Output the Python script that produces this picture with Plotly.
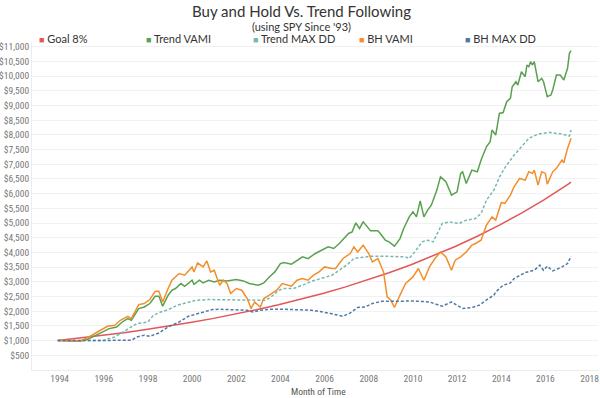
import plotly.graph_objects as go

# ---------------- data ----------------
goal_dates = ["1993-12", "1994-12", "1995-12", "1996-12", "1997-12", "1998-12", "1999-12",
              "2000-12", "2001-12", "2002-12", "2003-12", "2004-12", "2005-12", "2006-12",
              "2007-12", "2008-12", "2009-12", "2010-12", "2011-12", "2012-12", "2013-12",
              "2014-12", "2015-12", "2016-12", "2017-03"]
goal_vals = [1000, 1083, 1173, 1270, 1376, 1490, 1614, 1748, 1893, 2050, 2220, 2404, 2604,
             2820, 3054, 3308, 3582, 3880, 4202, 4551, 4928, 5338, 5781, 6261, 6390]

trend_vami_dates = ["1993-12", "1994-06", "1994-12", "1995-04", "1995-11", "1996-04", "1996-08",
                    "1996-11", "1997-02", "1997-04", "1997-08", "1997-11", "1998-02", "1998-05",
                    "1998-07", "1998-09", "1998-12", "1999-02", "1999-04", "1999-07", "1999-09",
                    "2000-01", "2000-02", "2000-05", "2000-07", "2000-10", "2001-01", "2001-04",
                    "2001-08", "2002-01", "2002-05", "2002-08", "2003-01", "2003-04", "2003-07",
                    "2003-10", "2004-01", "2004-03", "2004-07", "2005-01", "2005-04", "2005-08",
                    "2006-03", "2006-06", "2006-09", "2007-02", "2007-04", "2007-06", "2007-08",
                    "2007-10", "2008-02", "2008-06", "2008-08", "2008-10", "2008-12", "2009-03",
                    "2009-06", "2009-08", "2009-11", "2010-01", "2010-03", "2010-05", "2010-07",
                    "2010-09", "2010-11", "2011-02", "2011-04", "2011-07", "2011-10", "2012-01",
                    "2012-03", "2012-04", "2012-06", "2012-09", "2012-12", "2013-02", "2013-05",
                    "2013-07", "2013-08", "2013-10", "2013-12", "2014-02", "2014-04", "2014-06",
                    "2014-07", "2014-09", "2014-10", "2014-12", "2015-02", "2015-03", "2015-04",
                    "2015-05", "2015-06", "2015-07", "2015-09", "2015-11", "2015-12", "2016-02",
                    "2016-04", "2016-05", "2016-07", "2016-09", "2016-11", "2017-01", "2017-02",
                    "2017-03"]
trend_vami_vals = [1000, 987, 977, 1035, 1260, 1409, 1464,
                   1634, 1750, 1692, 2091, 2145, 2261, 2510,
                   2510, 2169, 2544, 2714, 2772, 2942, 2850,
                   3055, 2918, 3055, 2963, 3055, 2997, 3055,
                   3031, 3078, 3031, 2942, 2884, 2963, 3167,
                   3337, 3623, 3660, 3599, 3848, 3790, 3964,
                   4189, 4134, 4305, 4645, 4700, 5006, 4815,
                   5040, 4734, 4734, 4587, 4417, 4359, 4213,
                   4470, 4815, 5211, 5381, 5211, 5756, 5211,
                   5439, 5609, 6120, 6573, 6403, 5950, 6062,
                   6689, 6743, 6348, 6801, 6743, 7142, 7595,
                   7765, 8164, 7994, 8730, 8760, 9128, 9243,
                   9638, 9809, 9696, 10149, 9979, 10377, 10320,
                   10490, 10377, 10490, 9809, 9924, 9809, 9298,
                   9355, 9526, 10036, 10036, 9867, 10265, 10776,
                   10865]

trend_dd_dates = ["1993-12", "1996-01", "1996-02", "1996-07", "1996-10", "1997-04", "1997-07",
                  "1998-01", "1998-04", "1998-08", "1998-12", "1999-05", "1999-11", "2000-03",
                  "2000-10", "2002-05", "2002-11", "2003-05", "2003-08", "2003-12", "2004-03",
                  "2004-08", "2005-01", "2005-06", "2005-11", "2006-05", "2006-09", "2007-02",
                  "2007-05", "2007-08", "2008-02", "2008-09", "2009-07", "2009-09", "2009-11",
                  "2010-02", "2010-06", "2010-09", "2010-12", "2011-03", "2011-05", "2011-09",
                  "2012-02", "2012-06", "2012-11", "2013-02", "2013-05", "2013-09", "2013-12",
                  "2014-03", "2014-08", "2014-12", "2015-04", "2015-09", "2016-03", "2016-10",
                  "2017-02", "2017-03"]
trend_dd_vals = [1000, 1000, 1035, 1123, 1239, 1464, 1580,
                 1634, 1862, 1975, 2050, 2203, 2315, 2373,
                 2397, 2397, 2373, 2373, 2486, 2714, 2772,
                 2772, 2884, 3021, 3112, 3225, 3395, 3623,
                 3794, 3814, 3872, 3872, 3848, 3848, 3794,
                 4018, 4359, 4417, 4359, 4758, 4985, 5040,
                 4985, 5098, 5155, 5326, 5779, 6120, 6560,
                 6880, 7312, 7595, 7881, 8027, 8085, 8027,
                 7959, 8164]

bh_vami_dates = ["1993-12", "1994-03", "1994-06", "1994-09", "1994-12", "1995-04", "1995-11",
                 "1996-03", "1996-07", "1996-10", "1997-02", "1997-04", "1997-08", "1997-11",
                 "1998-02", "1998-05", "1998-07", "1998-09", "1998-12", "1999-02", "1999-06",
                 "1999-09", "2000-01", "2000-02", "2000-04", "2000-07", "2000-09", "2000-11",
                 "2001-01", "2001-04", "2001-06", "2001-08", "2001-10", "2002-01", "2002-04",
                 "2002-07", "2002-09", "2002-11", "2003-02", "2003-04", "2003-07", "2003-11",
                 "2004-02", "2004-07", "2004-10", "2005-01", "2005-04", "2005-07", "2005-10",
                 "2006-01", "2006-05", "2006-07", "2006-11", "2007-03", "2007-05", "2007-07",
                 "2007-10", "2008-01", "2008-03", "2008-06", "2008-09", "2008-11", "2009-01",
                 "2009-03", "2009-06", "2009-08", "2009-09", "2010-01", "2010-04", "2010-07",
                 "2010-10", "2011-01", "2011-04", "2011-07", "2011-10", "2011-12", "2012-03",
                 "2012-06", "2012-09", "2012-11", "2013-02", "2013-05", "2013-08", "2013-10",
                 "2014-01", "2014-03", "2014-06", "2014-08", "2014-11", "2015-02", "2015-04",
                 "2015-06", "2015-07", "2015-09", "2015-11", "2016-01", "2016-02", "2016-05",
                 "2016-07", "2016-10", "2016-11", "2017-01", "2017-03"]
bh_vami_vals = [1000, 1010, 985, 1000, 990, 1089, 1351,
                1488, 1522, 1692, 1828, 1750, 2227, 2261,
                2397, 2680, 2680, 2315, 2772, 3055, 3283,
                3225, 3507, 3337, 3644, 3507, 3712, 3337,
                3395, 2884, 3055, 2942, 2602, 2772, 2714,
                2431, 2091, 2315, 2145, 2431, 2544, 2714,
                2942, 2850, 3055, 3112, 3055, 3225, 3337,
                3507, 3453, 3453, 3794, 3964, 4189, 4018,
                4247, 3964, 3678, 3794, 3337, 2486, 2373,
                2125, 2550, 2850, 2942, 3167, 3453, 3055,
                3507, 3794, 4018, 3848, 3395, 3736, 3848,
                4018, 4247, 4305, 4417, 4928, 5211, 5098,
                5700, 5667, 5950, 6233, 6518, 6460, 6743,
                6689, 6801, 6290, 6743, 6689, 6324, 6743,
                6860, 7142, 7050, 7540, 7881]

bh_dd_dates = ["1993-12", "1997-04", "1997-07", "1997-11", "1998-02", "1998-07", "1998-12",
               "1999-06", "1999-11", "2000-07", "2000-12", "2001-04", "2002-01", "2002-07",
               "2002-10", "2003-02", "2003-07", "2004-03", "2005-06", "2006-03", "2006-11",
               "2007-03", "2007-07", "2007-11", "2008-03", "2008-08", "2009-06", "2010-01",
               "2010-10", "2011-05", "2011-10", "2012-04", "2012-09", "2013-01", "2013-06",
               "2013-09", "2013-10", "2014-02", "2014-06", "2014-08", "2015-02", "2015-07",
               "2015-10", "2015-12", "2016-02", "2016-05", "2016-10", "2017-01", "2017-03"]
bh_dd_vals = [1000, 1011, 1123, 1181, 1147, 1260, 1464,
              1634, 1828, 1975, 2057, 2067, 2057, 2033,
              1975, 2033, 2067, 2067, 2033, 1941, 1828,
              1941, 2125, 2145, 2261, 2339, 2339, 2349,
              2315, 2169, 2315, 2091, 2125, 2203, 2431,
              2544, 2656, 2884, 2963, 3112, 3317, 3395,
              3565, 3395, 3531, 3371, 3507, 3623, 3872]

series_names = ["Goal 8%", "Trend VAMI", "Trend MAX DD", "BH VAMI", "BH MAX DD"]
series_colors = ["#e15759", "#59a14f", "#76b7b2", "#f28e2b", "#4e79a7"]
x_tick_years = list(range(1994, 2019, 2))
y_tick_vals = list(range(500, 11001, 500))

# ---------------- figure ----------------
series = [
    (goal_dates, goal_vals, "solid"),
    (trend_vami_dates, trend_vami_vals, "solid"),
    (trend_dd_dates, trend_dd_vals, "3px,2px"),
    (bh_vami_dates, bh_vami_vals, "solid"),
    (bh_dd_dates, bh_dd_vals, "3px,2px"),
]

fig = go.Figure()
for (d, v, dash), name, col in zip(series, series_names, series_colors):
    fig.add_trace(go.Scatter(
        x=[s + "-01" for s in d], y=v, name=name, mode="lines",
        line=dict(color=col, width=1.5, dash=dash, shape="linear"),
        showlegend=False,
    ))

TICK_FONT = "Liberation Sans Narrow, Roboto Condensed, Arial Narrow, Roboto, sans-serif"
TEXT_FONT = "Lato, Open Sans, sans-serif"

L, R, T, B = 32, 598, 42, 28
PH = 398 - T - B

# legend drawn as text entries
legend_x_px = [37, 144, 251, 357, 463]
for name, col, px in zip(series_names, series_colors, legend_x_px):
    fig.add_annotation(
        xref="paper", yref="paper",
        x=(px - L) / (R - L), y=1 + (T - 38.5) / PH,
        xanchor="left", yanchor="middle", showarrow=False,
        text=f"<span style='color:{col};font-size:9px'>■</span> {name}",
        font=dict(family=TEXT_FONT, size=11, color="#333333"),
    )

fig.add_annotation(xref="paper", yref="paper", x=(301 - L) / (R - L), y=1 + (T - 11) / PH,
                   xanchor="center", yanchor="middle", showarrow=False,
                   text="Buy and Hold Vs. Trend Following",
                   font=dict(family=TEXT_FONT, size=15, color="#333333"))
fig.add_annotation(xref="paper", yref="paper", x=(301 - L) / (R - L), y=1 + (T - 26.5) / PH,
                   xanchor="center", yanchor="middle", showarrow=False,
                   text="(using SPY Since '93)",
                   font=dict(family=TEXT_FONT, size=11, color="#333333"))
fig.add_annotation(xref="paper", yref="paper", x=(318 - L) / (R - L), y=-(391 - (398 - B)) / PH,
                   xanchor="center", yanchor="middle", showarrow=False,
                   text="Month of Time",
                   font=dict(family=TICK_FONT, size=9.5, color="#555555"))

fig.update_layout(
    width=600, height=398,
    margin=dict(l=L, r=600 - R, t=T, b=B, pad=0),
    paper_bgcolor="white", plot_bgcolor="white",
    font=dict(family=TICK_FONT, color="#777777", size=9.5),
    xaxis=dict(
        type="date", range=["1992-10-01", "2018-05-20"],
        tickvals=[f"{y}-01-01" for y in x_tick_years],
        ticktext=[str(y) for y in x_tick_years],
        showgrid=False, zeroline=False,
        showline=True, linecolor="#ececec", linewidth=1,
        ticks="", tickfont=dict(family=TICK_FONT, size=9.5, color="#777777"),
        automargin=False,
    ),
    yaxis=dict(
        range=[0, 11160],
        tickvals=y_tick_vals,
        ticktext=[f"${v:,}" for v in y_tick_vals],
        showgrid=True, gridcolor="#f1f1f1", gridwidth=1,
        zeroline=False, showline=True, linecolor="#ececec", linewidth=1,
        ticks="", tickfont=dict(family=TICK_FONT, size=9.5, color="#777777"),
        automargin=False,
    ),
)

fig.write_html("out.html", config={"displayModeBar": False},
               post_script="document.body.style.margin='0';document.body.style.padding='0';")
